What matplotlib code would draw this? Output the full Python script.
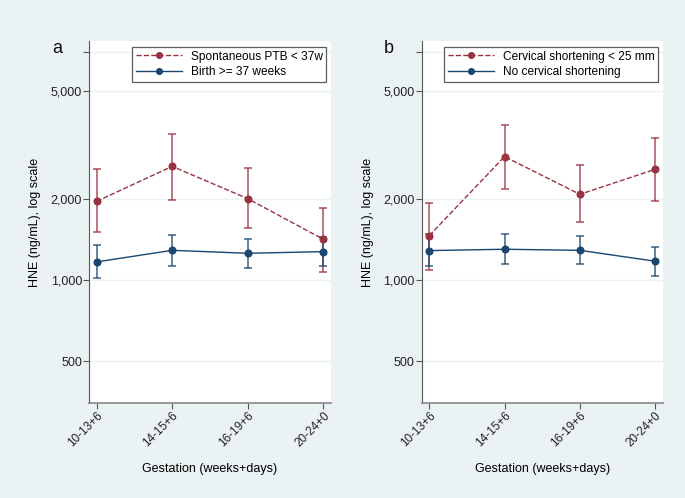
import numpy as np
import matplotlib.pyplot as plt
from matplotlib.ticker import FixedLocator, NullLocator

plt.rcParams['font.family'] = ['Liberation Sans', 'DejaVu Sans']

# Gestation windows (weeks+days)
periods = ["10-13+6", "14-15+6", "16-19+6", "20-24+0"]

# Panel a: spontaneous PTB vs term birth, HNE ng/mL (estimate, lower, upper)
ptb_est = [1955, 2633, 2000, 1414]
ptb_lo = [1510, 1983, 1561, 1067]
ptb_hi = [2576, 3475, 2600, 1842]

term_est = [1167, 1288, 1256, 1274]
term_lo = [1014, 1126, 1107, 1123]
term_hi = [1344, 1472, 1422, 1446]

# Panel b: cervical shortening vs none
short_est = [1459, 2862, 2075, 2568]
short_lo = [1088, 2166, 1633, 1967]
short_hi = [1928, 3753, 2658, 3349]

noshort_est = [1285, 1300, 1288, 1174]
noshort_lo = [1123, 1145, 1142, 1037]
noshort_hi = [1476, 1479, 1454, 1330]

ytick_vals = [500, 1000, 2000, 5000, 7000]
ytick_labels = ["500", "1,000", "2,000", "5,000", ""]

BG = "#EAF2F3"
RED = "#993340"
BLUE = "#1A476F"


def draw_series(ax, est, lo, hi, color, ls, label):
    x = np.arange(len(est))
    est = np.array(est)
    yerr = [est - np.array(lo), np.array(hi) - est]
    ax.errorbar(x, est, yerr=yerr, fmt='none', ecolor=color, elinewidth=1.1,
                capsize=3, capthick=1.1, alpha=0.85, zorder=2)
    ax.plot(x, est, linestyle=ls, color=color, lw=1.0, marker='o',
            markersize=4.8, label=label, zorder=3)


def style_axes(ax, letter, fig_x):
    ax.set_facecolor("white")
    ax.set_yscale("log")
    ax.set_ylim(351, 7660)
    ax.set_xlim(-0.1, 3.1)
    ax.yaxis.set_major_locator(FixedLocator(ytick_vals))
    ax.yaxis.set_minor_locator(NullLocator())
    ax.set_yticklabels(ytick_labels)
    ax.set_xticks(range(len(periods)))
    ax.set_xticklabels(periods, rotation=45, ha='right', rotation_mode='anchor')
    ax.grid(axis='y', color=BG, lw=1.0)
    ax.set_axisbelow(True)
    for s in ["top", "right"]:
        ax.spines[s].set_visible(False)
    ax.spines["left"].set_color("#555555")
    ax.spines["bottom"].set_color("#888888")
    ax.spines["bottom"].set_linewidth(1.2)
    ax.tick_params(axis='y', direction='out', length=4, color="#555555",
                   labelsize=9, labelcolor="#222222", pad=1)
    ax.tick_params(axis='x', direction='out', length=4, color="#555555",
                   labelsize=8.5, labelcolor="#222222", pad=1)
    ax.set_ylabel("HNE (ng/mL), log scale", fontsize=9, labelpad=7)
    ax.set_xlabel("Gestation (weeks+days)", fontsize=9, labelpad=10)
    leg = ax.legend(loc='upper right', bbox_to_anchor=(0.99, 0.99), fontsize=8.6,
                    frameon=True, fancybox=False, handlelength=3.9,
                    borderpad=0.3, labelspacing=0.3, handletextpad=0.7,
                    borderaxespad=0.2, markerscale=0.85)
    leg.get_frame().set_edgecolor("#333333")
    leg.get_frame().set_linewidth(0.9)
    fig.text(fig_x, 0.893, letter, fontsize=13, color="#111111")


fig = plt.figure(figsize=(6.85, 4.98), dpi=100, facecolor=BG)

ax1 = fig.add_axes([0.1299, 0.1908, 0.3533, 0.7269])
draw_series(ax1, ptb_est, ptb_lo, ptb_hi, RED, '--', "Spontaneous PTB < 37w")
draw_series(ax1, term_est, term_lo, term_hi, BLUE, '-', "Birth >= 37 weeks")
style_axes(ax1, "a", 0.077)

ax2 = fig.add_axes([0.6156, 0.1908, 0.3518, 0.7269])
draw_series(ax2, short_est, short_lo, short_hi, RED, '--', "Cervical shortening < 25 mm")
draw_series(ax2, noshort_est, noshort_lo, noshort_hi, BLUE, '-', "No cervical shortening")
style_axes(ax2, "b", 0.561)

fig.savefig("out.png", dpi=100, facecolor=BG)
